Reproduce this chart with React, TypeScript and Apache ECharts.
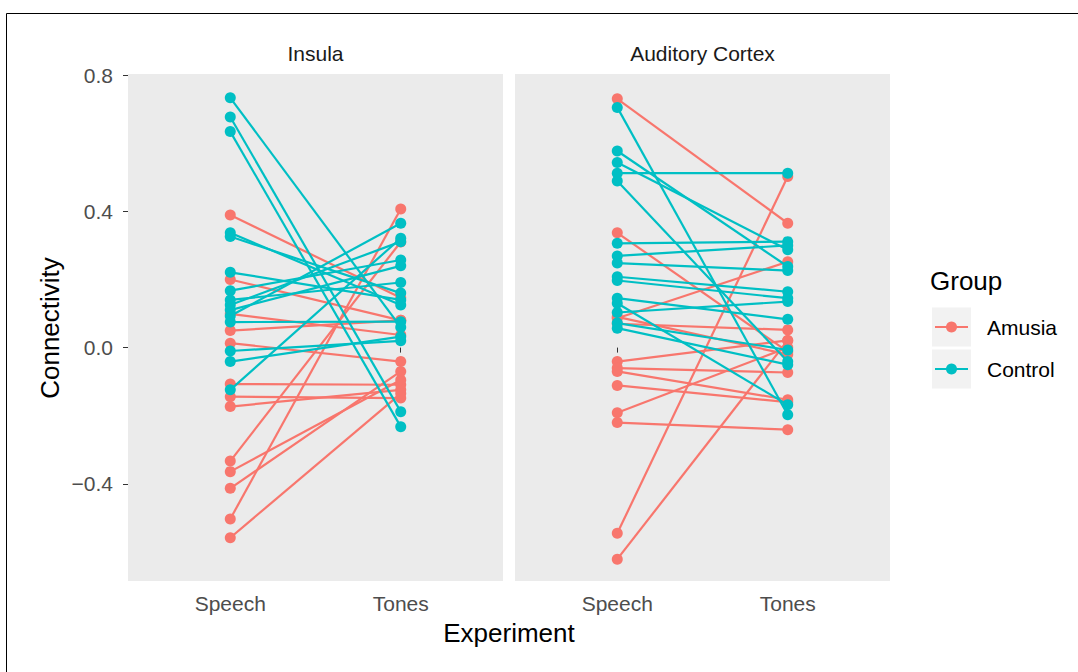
import React, { useEffect, useRef } from 'react';
import * as echarts from 'echarts';

const experiments = ['Speech', 'Tones'];
const panels = ['Insula', 'Auditory Cortex'];
const groups = ['Amusia', 'Control'];
const groupColors = ['#F8766D', '#00BFC4'];
const yTicks = [-0.4, 0, 0.4, 0.8];

// Insula
const insulaAmusiaSpeech = [0.389, 0.2, 0.099, 0.05, 0.013, -0.107, -0.144, -0.173, -0.333, -0.364, -0.413, -0.503, -0.558];
const insulaAmusiaTones = [0.146, 0.08, 0.037, 0.08, -0.041, -0.109, -0.148, -0.124, 0.31, -0.095, -0.07, 0.407, -0.135];
const insulaControlSpeech = [0.733, 0.677, 0.634, 0.337, 0.326, 0.221, 0.167, 0.14, 0.125, 0.11, 0.093, 0.075, -0.01, -0.041, -0.124];
const insulaControlTones = [0.06, -0.188, -0.232, 0.125, 0.16, 0.14, 0.257, 0.191, 0.311, 0.24, 0.365, 0.076, 0.02, 0.032, 0.321];

// Auditory Cortex
const acAmusiaSpeech = [0.73, 0.337, 0.09, 0.086, 0.07, -0.041, -0.06, -0.07, -0.111, -0.191, -0.22, -0.545, -0.621];
const acAmusiaTones = [0.365, -0.012, -0.02, 0.252, 0.052, 0.021, -0.073, -0.153, -0.16, 0.0, -0.241, 0.502, 0.021];
const acControlSpeech = [0.705, 0.577, 0.543, 0.512, 0.489, 0.306, 0.269, 0.248, 0.208, 0.197, 0.145, 0.13, 0.103, 0.072, 0.057];
const acControlTones = [-0.197, 0.238, 0.287, 0.512, -0.041, 0.311, 0.3, 0.226, 0.164, 0.145, 0.083, -0.168, 0.135, -0.007, -0.05];

const panelData = [
  [
    [insulaAmusiaSpeech, insulaAmusiaTones],
    [insulaControlSpeech, insulaControlTones],
  ],
  [
    [acAmusiaSpeech, acAmusiaTones],
    [acControlSpeech, acControlTones],
  ],
];

const FONT = '"Liberation Sans", Arial, Helvetica, sans-serif';
const SMALL = 21;
const BIG = 26;

export default function App() {
  const ref = useRef<HTMLDivElement>(null);
  useEffect(() => {
    if (!ref.current) return;
    const chart = echarts.init(ref.current, undefined, { renderer: 'svg' });

    const gridLefts = [128, 515];
    const gridWidth = 375;
    const gridTop = 74;
    const gridHeight = 507;

    const series: any[] = [];
    panelData.forEach((pd, p) => {
      pd.forEach((gd, g) => {
        const [sp, tn] = gd;
        sp.forEach((v, i) => {
          series.push({
            type: 'line',
            name: groups[g],
            xAxisIndex: p,
            yAxisIndex: p,
            data: [
              [1, v],
              [2, tn[i]],
            ],
            symbol: 'circle',
            symbolSize: 11,
            silent: true,
            lineStyle: { color: groupColors[g], width: 2.2 },
            itemStyle: { color: groupColors[g] },
            z: 2 + g,
          });
        });
      });
    });

    const legendX = 932;
    const graphic: any[] = [
      {
        type: 'rect',
        shape: { x: 6.5, y: 13.5, width: 1200, height: 800 },
        style: { fill: 'none', stroke: '#000', lineWidth: 1 },
        silent: true,
      },
      {
        type: 'text',
        x: 930,
        y: 281,
        style: { text: 'Group', font: `${BIG}px ${FONT}`, fill: '#000', verticalAlign: 'middle', align: 'left' },
      },
    ];
    groups.forEach((g, i) => {
      const cy = 327 + i * 42;
      graphic.push(
        { type: 'rect', shape: { x: legendX, y: cy - 19.5, width: 39, height: 39 }, style: { fill: '#F2F2F2' } },
        { type: 'line', shape: { x1: legendX + 3, y1: cy, x2: legendX + 36, y2: cy }, style: { stroke: groupColors[i], lineWidth: 2.2 } },
        { type: 'circle', shape: { cx: legendX + 19.5, cy, r: 5.5 }, style: { fill: groupColors[i] } },
        {
          type: 'text',
          x: 987,
          y: cy,
          style: { text: g, font: `${SMALL}px ${FONT}`, fill: '#000', verticalAlign: 'middle', align: 'left' },
        }
      );
    });
    panels.forEach((name, p) => {
      graphic.push({
        type: 'text',
        x: gridLefts[p] + gridWidth / 2,
        y: 53,
        style: { text: name, font: `${SMALL}px ${FONT}`, fill: '#1A1A1A', align: 'center', verticalAlign: 'middle' },
      });
    });
    graphic.push(
      {
        type: 'text',
        x: (gridLefts[0] + gridLefts[1] + gridWidth) / 2,
        y: 633,
        style: { text: 'Experiment', font: `${BIG}px ${FONT}`, fill: '#000', align: 'center', verticalAlign: 'middle' },
      },
      {
        type: 'text',
        x: 50,
        y: 328,
        rotation: Math.PI / 2,
        style: { text: 'Connectivity', font: `${BIG}px ${FONT}`, fill: '#000', align: 'center', verticalAlign: 'middle' },
      }
    );

    const option: any = {
      animation: false,
      backgroundColor: '#FFFFFF',
      textStyle: { fontFamily: FONT },
      grid: gridLefts.map((left) => ({
        left,
        top: gridTop,
        width: gridWidth,
        height: gridHeight,
        show: true,
        backgroundColor: '#EBEBEB',
        borderWidth: 0,
        containLabel: false,
      })),
      xAxis: gridLefts.map((_, p) => ({
        type: 'value',
        gridIndex: p,
        min: 0.4,
        max: 2.6,
        axisLine: { show: false },
        splitLine: { show: false },
        axisTick: { show: true, customValues: [1, 2], length: 5, lineStyle: { color: '#333333', width: 1 } },
        axisLabel: {
          customValues: [1, 2],
          formatter: (v: number) => experiments[Math.round(v) - 1] || '',
          color: '#4D4D4D',
          fontSize: SMALL,
          fontFamily: FONT,
          margin: 12,
        },
      })),
      yAxis: gridLefts.map((_, p) => ({
        type: 'value',
        gridIndex: p,
        min: -0.685,
        max: 0.803,
        axisLine: { show: false },
        splitLine: { show: false },
        axisTick: { show: p === 0, customValues: yTicks, length: 5, lineStyle: { color: '#333333', width: 1 } },
        axisLabel: {
          show: p === 0,
          customValues: yTicks,
          formatter: (v: number) => (Math.abs(v) < 1e-9 ? '0.0' : v < 0 ? '\u2212' + Math.abs(v).toFixed(1) : v.toFixed(1)),
          color: '#4D4D4D',
          fontSize: SMALL,
          fontFamily: FONT,
          margin: 15,
        },
      })),
      series,
      graphic,
    };
    chart.setOption(option);
    return () => chart.dispose();
  }, []);
  return (
    <div
      ref={ref}
      style={{ position: 'fixed', left: 0, top: 0, width: 1078, height: 672, background: '#fff' }}
    />
  );
}
